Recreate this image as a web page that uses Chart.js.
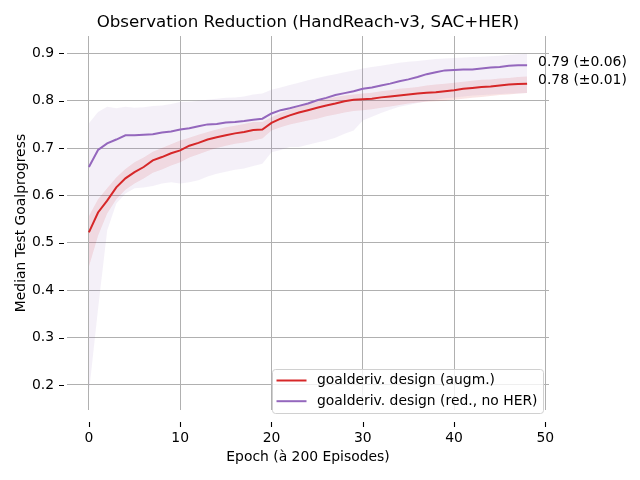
<!DOCTYPE html>
<html>
<head>
<meta charset="utf-8">
<script src="https://cdn.jsdelivr.net/npm/chart.js@4.4.1/dist/chart.umd.min.js"></script>
<style>
  html, body { margin: 0; padding: 0; background: #fff; }
  #wrap { width: 640px; height: 480px; }
</style>
</head>
<body>
<div id="wrap"><canvas id="myChart" width="640" height="480"></canvas></div>
<script>
const epochs = [0, 1, 2, 3, 4, 5, 6, 7, 8, 9, 10, 11, 12, 13, 14, 15, 16, 17, 18, 19,
  20, 21, 22, 23, 24, 25, 26, 27, 28, 29, 30, 31, 32, 33, 34, 35, 36, 37, 38, 39,
  40, 41, 42, 43, 44, 45, 46, 47, 48];

// goalderiv. design (augm.) - median and band
const augmMedian = [0.522, 0.564, 0.589, 0.617, 0.636, 0.649, 0.660, 0.674, 0.681, 0.689,
  0.695, 0.705, 0.711, 0.718, 0.723, 0.727, 0.731, 0.734, 0.738, 0.739,
  0.753, 0.762, 0.769, 0.775, 0.780, 0.785, 0.790, 0.794, 0.799, 0.802,
  0.803, 0.804, 0.807, 0.809, 0.811, 0.813, 0.815, 0.817, 0.818, 0.820,
  0.822, 0.825, 0.827, 0.829, 0.830, 0.832, 0.834, 0.835, 0.836];
const augmUpper = [0.556, 0.592, 0.615, 0.638, 0.656, 0.670, 0.680, 0.692, 0.700, 0.708,
  0.716, 0.722, 0.728, 0.734, 0.739, 0.744, 0.747, 0.751, 0.755, 0.755,
  0.765, 0.774, 0.781, 0.787, 0.793, 0.800, 0.804, 0.808, 0.811, 0.813,
  0.815, 0.817, 0.820, 0.822, 0.825, 0.827, 0.829, 0.832, 0.834, 0.836,
  0.838, 0.840, 0.842, 0.844, 0.845, 0.847, 0.848, 0.850, 0.851];
const augmLower = [0.450, 0.515, 0.562, 0.592, 0.612, 0.625, 0.636, 0.648, 0.655, 0.663,
  0.670, 0.680, 0.687, 0.694, 0.700, 0.705, 0.709, 0.712, 0.716, 0.720,
  0.737, 0.744, 0.750, 0.754, 0.758, 0.762, 0.767, 0.771, 0.775, 0.778,
  0.780, 0.782, 0.785, 0.788, 0.791, 0.794, 0.796, 0.798, 0.799, 0.800,
  0.802, 0.804, 0.806, 0.808, 0.810, 0.812, 0.813, 0.815, 0.816];

// goalderiv. design (red., no HER) - median and band
const redMedian = [0.660, 0.696, 0.710, 0.718, 0.727, 0.727, 0.728, 0.729, 0.733, 0.735,
  0.739, 0.742, 0.746, 0.750, 0.751, 0.754, 0.755, 0.757, 0.760, 0.762,
  0.773, 0.780, 0.784, 0.789, 0.794, 0.801, 0.806, 0.812, 0.816, 0.820,
  0.825, 0.828, 0.832, 0.836, 0.841, 0.845, 0.850, 0.856, 0.860, 0.864,
  0.865, 0.866, 0.866, 0.868, 0.870, 0.871, 0.874, 0.875, 0.875];
const redUpper = [0.752, 0.776, 0.787, 0.784, 0.787, 0.785, 0.786, 0.789, 0.790, 0.793,
  0.797, 0.798, 0.800, 0.802, 0.804, 0.806, 0.807, 0.809, 0.813, 0.815,
  0.823, 0.828, 0.833, 0.838, 0.843, 0.848, 0.852, 0.856, 0.860, 0.864,
  0.868, 0.871, 0.874, 0.877, 0.880, 0.882, 0.884, 0.886, 0.888, 0.889,
  0.890, 0.891, 0.892, 0.893, 0.894, 0.895, 0.897, 0.898, 0.899];
const redLower = [0.183, 0.360, 0.526, 0.583, 0.604, 0.615, 0.617, 0.620, 0.625, 0.628,
  0.625, 0.628, 0.632, 0.640, 0.646, 0.650, 0.654, 0.657, 0.662, 0.667,
  0.691, 0.696, 0.702, 0.702, 0.707, 0.712, 0.716, 0.722, 0.730, 0.737,
  0.758, 0.766, 0.774, 0.781, 0.787, 0.791, 0.795, 0.799, 0.802, 0.805,
  0.807, 0.809, 0.811, 0.812, 0.813, 0.814, 0.815, 0.815, 0.816];

const xTicks = [0, 10, 20, 30, 40, 50];
const yTicks = [0.2, 0.3, 0.4, 0.5, 0.6, 0.7, 0.8, 0.9];
const endLabels = ["0.79 (\u00b10.06)", "0.78 (\u00b10.01)"];

const RED = "#d62728";
const PURPLE = "#9467bd";
const FONT = "'DejaVu Sans', sans-serif";

function pts(values) {
  return epochs.map((e, i) => ({ x: e, y: values[i] }));
}

// tick marks sit a bit away from the plot, like the offset spines in the original
const offsetTicks = {
  id: "offsetTicks",
  afterDraw(chart) {
    const ctx = chart.ctx;
    const area = chart.chartArea;
    const xs = chart.scales.x, ys = chart.scales.y;
    ctx.save();
    ctx.strokeStyle = "#000";
    ctx.lineWidth = 1.1;
    ctx.beginPath();
    xTicks.forEach(v => {
      const px = Math.round(xs.getPixelForValue(v)) + 0.5;
      ctx.moveTo(px, area.bottom + 12);
      ctx.lineTo(px, area.bottom + 17);
    });
    yTicks.forEach(v => {
      const py = Math.round(ys.getPixelForValue(v)) + 0.5;
      ctx.moveTo(area.left - 8, py);
      ctx.lineTo(area.left - 3, py);
    });
    ctx.stroke();
    ctx.restore();
  }
};

// final-value annotations next to the line ends
const endText = {
  id: "endText",
  afterDatasetsDraw(chart) {
    const ctx = chart.ctx;
    const xs = chart.scales.x, ys = chart.scales.y;
    const last = epochs.length - 1;
    ctx.save();
    ctx.font = "13.9px " + FONT;
    ctx.fillStyle = "#000";
    ctx.textBaseline = "middle";
    ctx.textAlign = "left";
    [redMedian, augmMedian].forEach((arr, i) => {
      ctx.fillText(endLabels[i], xs.getPixelForValue(epochs[last]) + 11,
        ys.getPixelForValue(arr[last]) - 3);
    });
    ctx.restore();
  }
};

// legend drawn inside the plot, lower right
const innerLegend = {
  id: "innerLegend",
  afterDraw(chart) {
    const ctx = chart.ctx;
    const area = chart.chartArea;
    const items = chart.data.datasets.filter(d => d.inLegend);
    ctx.save();
    ctx.font = "13.9px " + FONT;
    const w = 271, h = 44;
    const right = area.right - 6, bottom = area.bottom + 3;
    const left = right - w, top = bottom - h;
    ctx.fillStyle = "rgba(255,255,255,0.8)";
    ctx.strokeStyle = "#d0d0d0";
    ctx.lineWidth = 1;
    ctx.beginPath();
    ctx.roundRect(left + 0.5, top + 0.5, w, h, 3);
    ctx.fill();
    ctx.stroke();
    items.forEach((d, i) => {
      const y = top + 11.5 + i * 20.7;
      ctx.strokeStyle = d.borderColor;
      ctx.lineWidth = 2;
      ctx.beginPath();
      ctx.moveTo(left + 4.5, y);
      ctx.lineTo(left + 34.5, y);
      ctx.stroke();
      ctx.fillStyle = "#000";
      ctx.textBaseline = "middle";
      ctx.fillText(d.label, left + 45, y);
    });
    ctx.restore();
  }
};

const line = (label, values, color) => ({
  label: label, data: pts(values), borderColor: color, borderWidth: 2,
  pointRadius: 0, tension: 0, fill: false, inLegend: true
});
const band = (values, color, fillTo) => ({
  data: pts(values), borderWidth: 0, borderColor: "rgba(0,0,0,0)",
  pointRadius: 0, tension: 0, fill: fillTo, backgroundColor: color
});

const canvas = document.getElementById("myChart");
let myChart = new Chart(canvas, {
  type: "line",
  data: {
    datasets: [
      line("goalderiv. design (augm.)", augmMedian, RED),
      line("goalderiv. design (red., no HER)", redMedian, PURPLE),
      band(redUpper, "rgba(148,103,189,0.1)", 3),
      band(redLower, "rgba(0,0,0,0)", false),
      band(augmUpper, "rgba(214,39,40,0.12)", 5),
      band(augmLower, "rgba(0,0,0,0)", false),
    ],
  },
  options: {
    responsive: false,
    animation: false,
    events: [],
    layout: { padding: { left: 0, right: 91, top: 0, bottom: 0 } },
    plugins: {
      legend: { display: false },
      tooltip: { enabled: false },
      title: {
        display: true,
        fullSize: false,
        text: "Observation Reduction (HandReach-v3, SAC+HER)",
        color: "#000",
        font: { family: FONT, size: 16.7, weight: "normal" },
        padding: { top: 12.5, bottom: 3.5 },
      },
    },
    scales: {
      x: {
        type: "linear",
        min: -2.4,
        max: 50.4,
        afterBuildTicks: s => { s.ticks = xTicks.map(v => ({ value: v })); },
        afterFit: s => { s.height = 70; },
        border: { display: false },
        grid: { color: "#b0b0b0", lineWidth: 1, drawTicks: false },
        ticks: { color: "#000", padding: 20, maxRotation: 0,
          font: { family: FONT, size: 13.9 } },
        title: { display: true, text: "Epoch (\u00e0 200 Episodes)", color: "#000",
          font: { family: FONT, size: 13.9 }, padding: { top: 4, bottom: 14.5 } },
      },
      y: {
        type: "linear",
        min: 0.147,
        max: 0.9365,
        afterBuildTicks: s => { s.ticks = yTicks.map(v => ({ value: v })); },
        afterFit: s => { s.width = 67; },
        border: { display: false },
        grid: { color: "#b0b0b0", lineWidth: 1, drawTicks: false },
        ticks: { color: "#000", padding: 13, callback: v => v.toFixed(1),
          font: { family: FONT, size: 13.9 } },
        title: { display: true, text: "Median Test Goalprogress", color: "#000",
          font: { family: FONT, size: 13.9 }, padding: { top: 13.5, bottom: 0 } },
      },
    },
  },
  plugins: [endText, offsetTicks, innerLegend],
});
</script>
</body>
</html>
